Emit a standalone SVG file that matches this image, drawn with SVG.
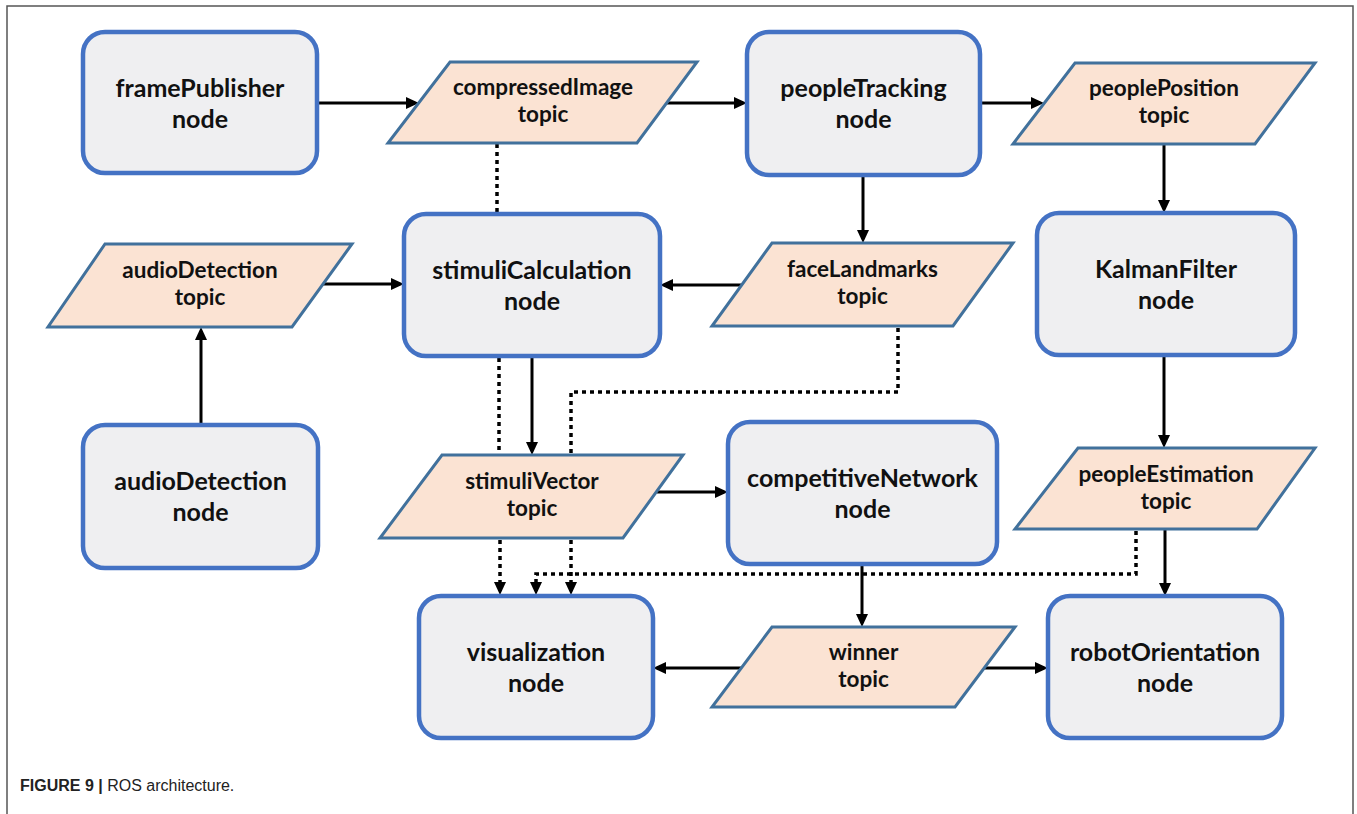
<svg xmlns="http://www.w3.org/2000/svg" width="1357" height="814" viewBox="0 0 1357 814">
  <style>
    .node rect { fill: #EFEFF1; stroke: #4472C4; stroke-width: 4.5; }
    .topic polygon { fill: #FBE3D3; stroke: #41719C; stroke-width: 3; stroke-linejoin: miter; }
    .node text { font-family: Lato, "Liberation Sans", sans-serif; font-weight: 700; font-size: 25px; fill: #111; text-anchor: middle; }
    .topic text { font-family: Lato, "Liberation Sans", sans-serif; font-weight: 700; font-size: 22.5px; fill: #111; text-anchor: middle; }
    .solid { fill: none; stroke: #000; stroke-width: 3; }
    .dot { fill: none; stroke: #000; stroke-width: 3.5; stroke-dasharray: 4 4; }
    .caption { font-family: "Liberation Sans", Arial, sans-serif; font-size: 16px; fill: #222; }
  </style>
  <defs>
    <marker id="arrow" markerUnits="userSpaceOnUse" markerWidth="13" markerHeight="12" viewBox="0 0 13 12" refX="9" refY="6" orient="auto">
      <path d="M0,0 L13,6 L0,12 z" fill="#000"/>
    </marker>
  </defs>

  <!-- figure frame -->
  <polyline points="7,814 7,6 1353,6 1353,814" fill="none" stroke="#555" stroke-width="1.5"/>

  <!-- connectors -->
  <g id="connectors">
    <path class="solid" d="M317,103 H415" marker-end="url(#arrow)"/>
    <path class="solid" d="M667,103 H743" marker-end="url(#arrow)"/>
    <path class="solid" d="M980,103 H1040" marker-end="url(#arrow)"/>
    <path class="solid" d="M1164,144 V209" marker-end="url(#arrow)"/>
    <path class="solid" d="M863,175 V239" marker-end="url(#arrow)"/>
    <path class="solid" d="M742,285 H664" marker-end="url(#arrow)"/>
    <path class="solid" d="M322,284 H400" marker-end="url(#arrow)"/>
    <path class="solid" d="M201,425 V331" marker-end="url(#arrow)"/>
    <path class="solid" d="M532,356 V451" marker-end="url(#arrow)"/>
    <path class="solid" d="M657,492 H724" marker-end="url(#arrow)"/>
    <path class="solid" d="M1164,355 V444" marker-end="url(#arrow)"/>
    <path class="solid" d="M1165,529 V592" marker-end="url(#arrow)"/>
    <path class="solid" d="M862,564 V623" marker-end="url(#arrow)"/>
    <path class="solid" d="M743,668 H657" marker-end="url(#arrow)"/>
    <path class="solid" d="M983,668 H1044" marker-end="url(#arrow)"/>

    <path class="dot" d="M497,144 V212"/>
    <path class="dot" d="M499,358 V454"/>
    <path class="dot" d="M898,328 V392 H571 V454"/>
    <path class="dot" d="M500,540 V591" marker-end="url(#arrow)"/>
    <path class="dot" d="M571,540 V591" marker-end="url(#arrow)"/>
    <path class="dot" d="M1136,531 V574 H536 V591" marker-end="url(#arrow)"/>
  </g>

  <!-- nodes -->
  <g id="framePublisher" class="node">
    <rect x="83" y="32" width="234" height="141" rx="22"/>
    <text x="200" y="97">framePublisher</text>
    <text x="200" y="128">node</text>
  </g>
  <g id="peopleTracking" class="node">
    <rect x="747" y="32" width="233" height="143" rx="22"/>
    <text x="863.5" y="97">peopleTracking</text>
    <text x="863.5" y="128">node</text>
  </g>
  <g id="stimuliCalculation" class="node">
    <rect x="404" y="214" width="256" height="142" rx="22"/>
    <text x="532" y="279">stimuliCalculation</text>
    <text x="532" y="310">node</text>
  </g>
  <g id="KalmanFilter" class="node">
    <rect x="1037" y="213" width="258" height="142" rx="22"/>
    <text x="1166" y="278">KalmanFilter</text>
    <text x="1166" y="309">node</text>
  </g>
  <g id="audioDetectionNode" class="node">
    <rect x="83" y="425" width="235" height="143" rx="22"/>
    <text x="200.5" y="490">audioDetection</text>
    <text x="200.5" y="521">node</text>
  </g>
  <g id="competitiveNetwork" class="node">
    <rect x="728" y="422" width="269" height="142" rx="22"/>
    <text x="862.5" y="487">competitiveNetwork</text>
    <text x="862.5" y="518">node</text>
  </g>
  <g id="visualization" class="node">
    <rect x="419" y="596" width="234" height="142" rx="22"/>
    <text x="536" y="661">visualization</text>
    <text x="536" y="692">node</text>
  </g>
  <g id="robotOrientation" class="node">
    <rect x="1048" y="596" width="234" height="142" rx="22"/>
    <text x="1165" y="661">robotOrientation</text>
    <text x="1165" y="692">node</text>
  </g>

  <!-- topics -->
  <g id="compressedImage" class="topic">
    <polygon points="450,62 697,62 637,143 388,143"/>
    <text x="543" y="95">compressedImage</text>
    <text x="543" y="122">topic</text>
  </g>
  <g id="peoplePosition" class="topic">
    <polygon points="1075,63 1315,63 1255,144 1013,144"/>
    <text x="1164" y="96">peoplePosition</text>
    <text x="1164" y="123">topic</text>
  </g>
  <g id="audioDetectionTopic" class="topic">
    <polygon points="105,244 352,244 292,327 48,327"/>
    <text x="200" y="278">audioDetection</text>
    <text x="200" y="305">topic</text>
  </g>
  <g id="faceLandmarks" class="topic">
    <polygon points="772,243 1013,243 953,326 712,326"/>
    <text x="862.5" y="277">faceLandmarks</text>
    <text x="862.5" y="304">topic</text>
  </g>
  <g id="stimuliVector" class="topic">
    <polygon points="442,455 683,455 623,538 380,538"/>
    <text x="532" y="489">stimuliVector</text>
    <text x="532" y="516">topic</text>
  </g>
  <g id="peopleEstimation" class="topic">
    <polygon points="1078,448 1315,448 1257,529 1015,529"/>
    <text x="1166" y="482">peopleEstimation</text>
    <text x="1166" y="509">topic</text>
  </g>
  <g id="winner" class="topic">
    <polygon points="772,627 1015,627 955,707 712,707"/>
    <text x="863.5" y="660">winner</text>
    <text x="863.5" y="687">topic</text>
  </g>

  <!-- caption -->
  <text class="caption" x="20" y="791"><tspan font-weight="700">FIGURE 9 | </tspan>ROS architecture.</text>
</svg>
